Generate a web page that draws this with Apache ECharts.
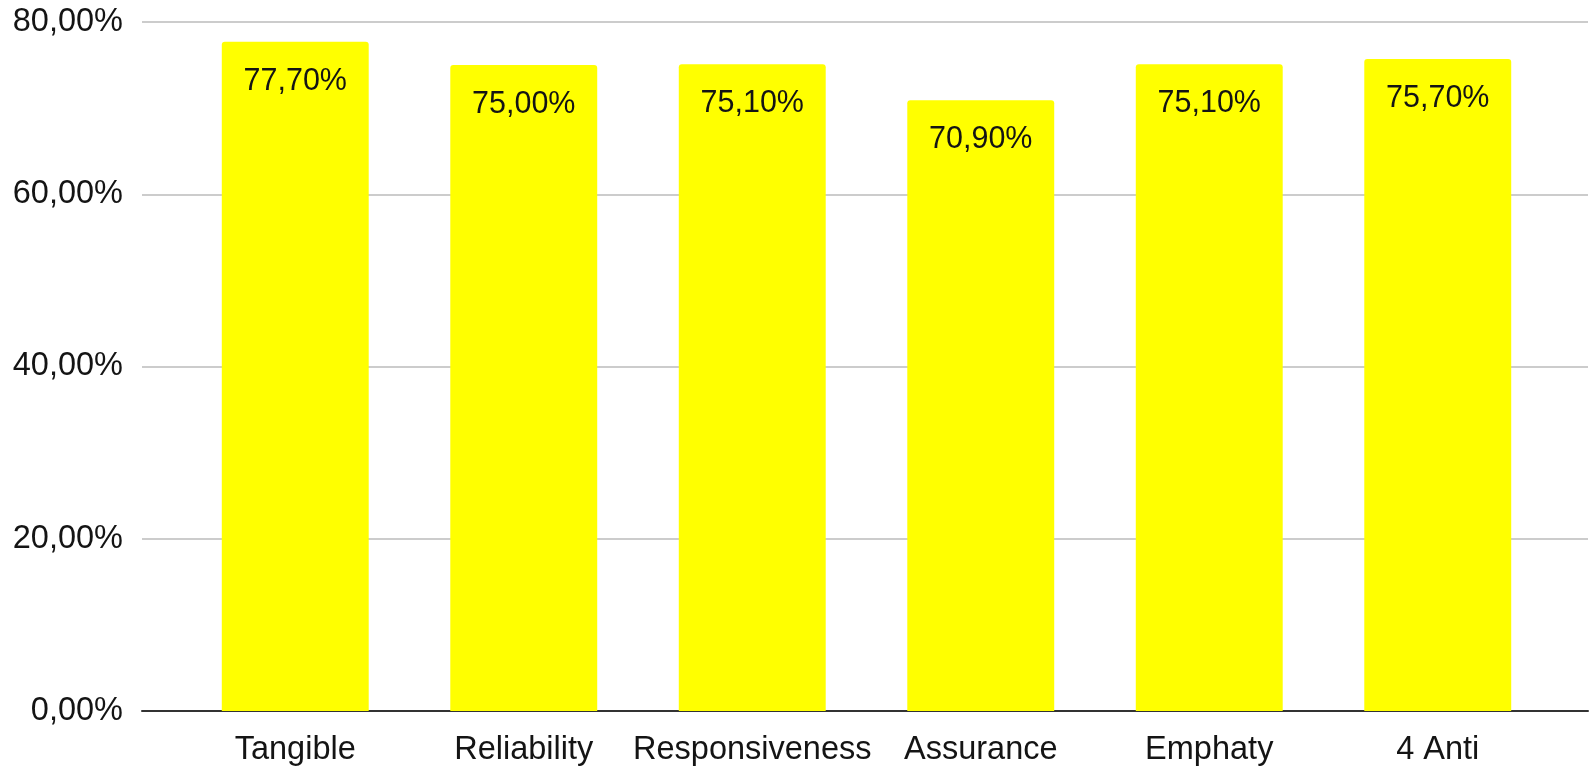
<!DOCTYPE html>
<html>
<head>
<meta charset="utf-8">
<script src="https://cdn.jsdelivr.net/npm/echarts@6/dist/echarts.min.js"></script>
<style>
html,body{margin:0;padding:0;background:#fff;}
#c{width:1589px;height:767px;}
</style>
</head>
<body>
<div id="c"></div>
<script>
const categories = ['Tangible', 'Reliability', 'Responsiveness', 'Assurance', 'Emphaty', '4 Anti'];
const values = [77.7, 75.0, 75.1, 70.9, 75.1, 75.7];
const yTicks = [0, 20, 40, 60, 80];

function pct(v) { return v.toFixed(2).replace('.', ',') + '%'; }

const chart = echarts.init(document.getElementById('c'), null, {renderer: 'canvas'});
const font = '"Liberation Sans", Arial, sans-serif';
chart.setOption({
  animation: false,
  backgroundColor: '#ffffff',
  grid: [
    {left: 142, right: 1, top: 22, bottom: 56},
    {left: 181, right: 37, top: 22, bottom: 56}
  ],
  xAxis: [
    {gridIndex: 0, type: 'value', min: 0, max: 1, show: true,
     axisLine: {show: true, lineStyle: {color: '#333333', width: 2}},
     axisTick: {show: false}, axisLabel: {show: false}, splitLine: {show: false}},
    {gridIndex: 1, type: 'category', data: categories,
     axisLine: {show: false}, axisTick: {show: false},
     axisLabel: {interval: 0, color: '#141414', fontSize: 32.5, fontFamily: font, margin: 23}}
  ],
  yAxis: [
    {gridIndex: 0, type: 'value', min: 0, max: 80, interval: 20,
     axisLine: {show: false}, axisTick: {show: false},
     axisLabel: {color: '#141414', fontSize: 32.5, fontFamily: font, margin: 19,
       formatter: function (v) { return pct(v); }},
     splitLine: {show: true, lineStyle: {color: '#cccccc', width: 2}}},
    {gridIndex: 1, type: 'value', min: 0, max: 80, interval: 20, show: false,
     splitLine: {show: false}}
  ],
  series: [{
    type: 'bar',
    xAxisIndex: 1, yAxisIndex: 1,
    data: values,
    barCategoryGap: '35.7%',
    itemStyle: {color: '#ffff00', borderRadius: [3, 3, 0, 0]},
    label: {show: true, position: 'insideTop', distance: 24,
      color: '#141414', fontSize: 30.5, fontFamily: font,
      formatter: function (p) { return pct(p.value); }},
    z: 3
  }]
});
</script>
</body>
</html>
